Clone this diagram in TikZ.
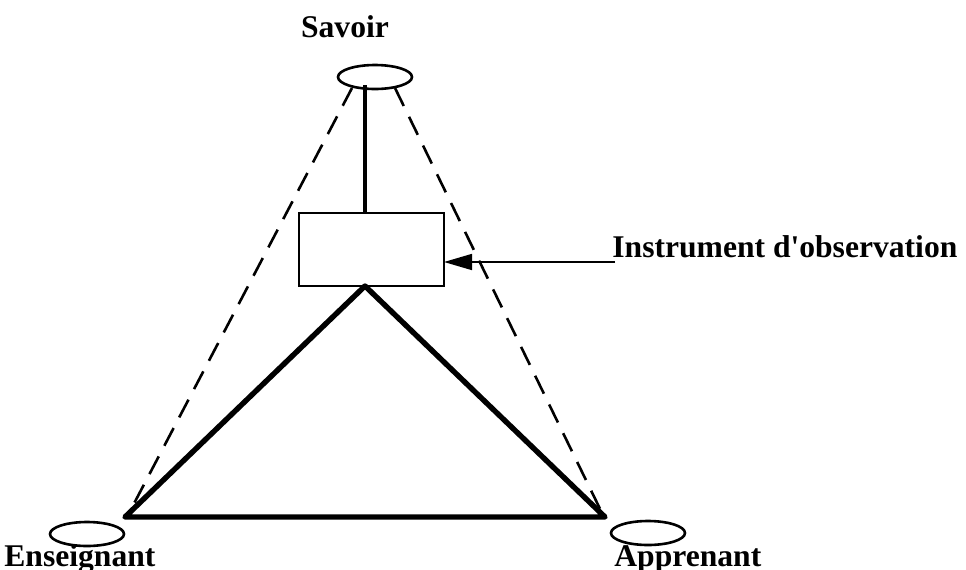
\documentclass[tikz,border=0pt]{standalone}
\usepackage{fontspec}
\setmainfont{Liberation Serif}[Ligatures=TeXOff]
\usetikzlibrary{arrows.meta,shapes.geometric}
\begin{document}
\begin{tikzpicture}[x=0.5pt,y=-0.5pt,
  lbl/.style={inner sep=0pt,font=\fontsize{15.8}{18}\selectfont\bfseries},
  pole/.style={draw,line width=1.3pt,ellipse,minimum width=37pt,minimum height=12pt,inner sep=0pt},
  thick line/.style={line width=2.7pt,line cap=round,line join=round},
  dash line/.style={line width=1.3pt,dash pattern=on 10pt off 6pt}]
\useasboundingbox (0,0) rectangle (966,569);
\node[pole] (sav) at (375,77) {};
\node[pole] (ens) at (87,534) {};
\node[pole] (app) at (648,533) {};
\node[lbl,anchor=base] (tsav) at (345,37) {Savoir};
\node[lbl,anchor=base west] (tens) at (4,566) {Enseignant};
\node[lbl,anchor=base west] (tapp) at (614,566) {Apprenant};
\node[lbl,anchor=base west] (tins) at (612,257) {Instrument d'observation};
\node[draw,line width=1.2pt,minimum width=72.5pt,minimum height=36.5pt,inner sep=0pt] (box) at (371.5,249.5) {};
\coordinate (topv) at (365,85);
\coordinate (boxtop) at (365,213);
\coordinate (apex) at (365,286);
\coordinate (L) at (125,517);
\coordinate (R) at (605,517);
\coordinate (dl) at (352,88);
\coordinate (dr) at (395,88);
\coordinate (dL) at (128,515);
\coordinate (dR) at (603,515);
\coordinate (arrS) at (615,262);
\coordinate (arrE) at (444,262);
\draw[line width=2pt] (topv) -- (boxtop);
\draw[thick line] (apex) -- (L) -- (R) -- cycle;
\draw[dash line] (dl) -- (dL);
\draw[dash line] (dr) -- (dR);
\draw[line width=0.8pt,-{Triangle[length=14pt,width=8pt]}] (arrS) -- (arrE);
\end{tikzpicture}
\end{document}
